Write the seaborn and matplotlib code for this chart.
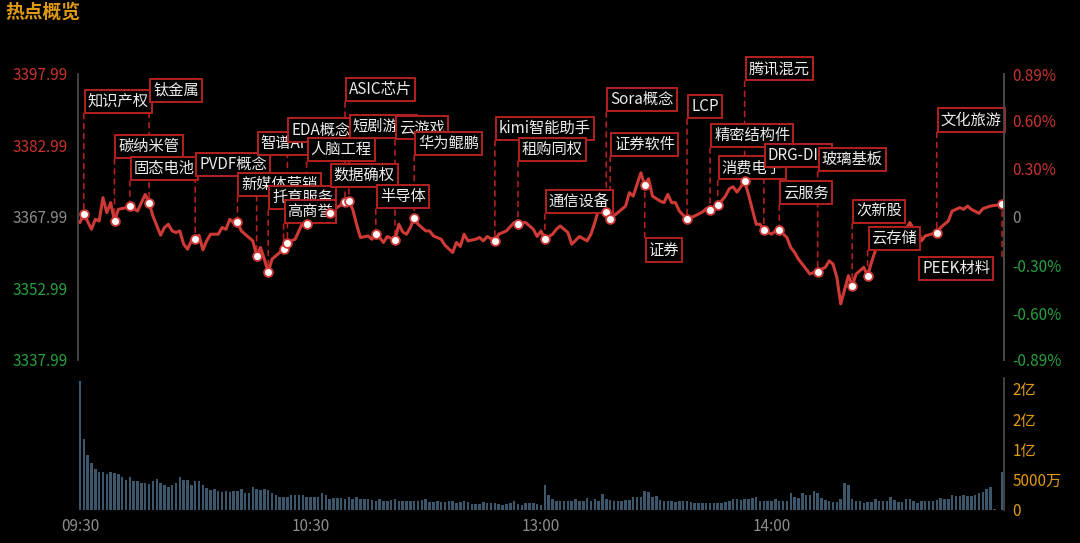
import matplotlib
matplotlib.use('Agg')
import matplotlib.pyplot as plt
import seaborn as sns
import pandas as pd

# 分时走势: minutes after 09:30 (13:00 continues at 120), index level
minute = [0, 1, 3, 4, 5, 6, 7, 8, 9, 10, 12, 13, 15, 17, 18, 19, 21, 22, 23, 24,
          25, 26, 27, 28, 29, 30, 31, 32, 33, 34, 36, 37, 38, 39, 40, 41, 42, 44, 45, 46,
          47, 48, 49, 50, 52, 53, 54, 56, 57, 58, 59, 61, 65, 69, 70, 71, 72, 73, 75, 76,
          77, 78, 79, 80, 82, 83, 84, 85, 86, 87, 88, 90, 91, 92, 94, 95, 97, 98, 99, 100,
          101, 103, 104, 105, 106, 108, 109, 111, 113, 114, 116, 118, 119, 120, 121, 123, 124, 125, 127, 128,
          130, 132, 133, 134, 135, 137, 138, 140, 142, 143, 144, 145, 146, 147, 148, 149, 151, 152, 153, 154,
          155, 156, 158, 160, 162, 163, 164, 166, 168, 169, 170, 171, 173, 174, 175, 176, 177, 178, 180, 181,
          182, 184, 185, 186, 187, 188, 190, 191, 192, 193, 194, 195, 196, 197, 198, 200, 201, 202, 203, 204,
          205, 206, 207, 209, 210, 212, 213, 215, 216, 217, 218, 219, 220, 223, 224, 226, 227, 229, 230, 231,
          232, 234, 235, 237, 240]
price = [3366.82, 3368.70, 3365.42, 3367.51, 3367.15, 3372.04, 3368.91, 3371.00, 3367.15, 3369.60,
         3369.95, 3370.29, 3369.24, 3372.73, 3371.00, 3368.20, 3364.17, 3365.78, 3366.47, 3365.07,
         3364.73, 3365.07, 3362.29, 3361.24, 3362.98, 3363.33, 3364.17, 3361.10, 3362.98, 3364.38,
         3364.38, 3365.78, 3365.42, 3367.51, 3366.82, 3366.95, 3365.07, 3363.69, 3362.98, 3359.84,
         3361.60, 3359.15, 3356.38, 3359.15, 3360.55, 3361.24, 3362.64, 3363.33, 3365.07, 3366.82,
         3366.47, 3367.15, 3368.91, 3371.12, 3371.33, 3369.60, 3366.47, 3363.69, 3364.02, 3363.33,
         3364.38, 3363.69, 3362.64, 3363.90, 3363.12, 3366.47, 3364.86, 3364.38, 3365.78, 3367.86,
         3366.47, 3365.07, 3365.07, 3364.02, 3363.33, 3362.08, 3360.55, 3362.64, 3361.81, 3364.38,
         3362.98, 3363.33, 3363.69, 3362.98, 3363.90, 3362.98, 3364.38, 3365.07, 3366.82, 3366.61,
         3366.82, 3365.42, 3363.90, 3365.07, 3363.33, 3364.38, 3365.42, 3366.11, 3364.73, 3362.29,
         3363.90, 3362.98, 3364.38, 3366.82, 3369.60, 3369.03, 3367.66, 3368.91, 3370.29, 3373.09,
         3372.38, 3374.82, 3377.27, 3374.61, 3376.01, 3372.38, 3371.33, 3371.00, 3372.73, 3371.00,
         3371.00, 3369.24, 3367.51, 3368.20, 3369.03, 3369.74, 3369.45, 3370.43, 3372.38, 3373.92,
         3374.34, 3373.21, 3375.45, 3372.73, 3369.60, 3366.47, 3366.47, 3365.21, 3364.38, 3365.07,
         3365.21, 3363.69, 3361.60, 3360.55, 3359.15, 3358.11, 3356.02, 3356.38, 3356.50, 3357.06,
         3357.42, 3358.80, 3358.11, 3355.33, 3349.75, 3355.67, 3353.58, 3356.02, 3356.71, 3357.42,
         3355.67, 3358.46, 3360.89, 3362.98, 3363.69, 3363.69, 3364.38, 3365.42, 3366.82, 3365.42,
         3365.78, 3362.98, 3364.02, 3364.73, 3365.78, 3367.15, 3369.24, 3369.95, 3369.60, 3370.29,
         3369.60, 3368.76, 3369.74, 3370.29, 3370.64]
pre_close = 3367.99

# 成交额 per minute (万), 09:30 .. 15:00
volume = [21340, 11660, 9020, 7810, 6710, 6270, 6270, 5940, 6270, 6050,
          5940, 5500, 4950, 5390, 4840, 4730, 4510, 4510, 4290, 4840,
          5170, 4510, 4180, 3850, 4070, 4510, 5390, 4950, 4950, 4070,
          4840, 4840, 4180, 3630, 3300, 3410, 3080, 2970, 3190, 2970,
          3080, 3190, 3520, 2750, 2750, 3740, 3410, 3300, 3410, 3300,
          2860, 2420, 2090, 2200, 2090, 2420, 2530, 2530, 2530, 2200,
          2090, 2200, 2200, 2750, 2420, 1760, 1980, 1980, 1980, 1760,
          2200, 1760, 2090, 1870, 1870, 1760, 1650, 1430, 1760, 1430,
          1540, 1650, 1760, 1430, 1430, 1430, 1540, 1540, 1540, 1650,
          1760, 1320, 1320, 1430, 1320, 1320, 1540, 1430, 1100, 1320,
          1430, 1320, 990, 990, 990, 1320, 1210, 1210, 1100, 990,
          880, 990, 1210, 1540, 990, 880, 1100, 1210, 1100, 990,
          880, 4070, 2530, 1760, 1430, 1540, 1540, 1430, 1430, 1870,
          1430, 1430, 1980, 1540, 1870, 1430, 2640, 1760, 1650, 1430,
          1430, 1540, 1650, 1650, 2090, 2200, 2200, 3190, 2970, 2200,
          2310, 1650, 1540, 1540, 1540, 1320, 1540, 1540, 1540, 1320,
          1210, 1210, 1210, 1100, 1100, 1100, 1100, 1210, 1320, 1540,
          1760, 1760, 1650, 1760, 1870, 1980, 2200, 1540, 1540, 1540,
          1430, 1870, 1430, 1430, 1430, 2860, 2200, 1980, 2750, 2530,
          2420, 3080, 2750, 1980, 1650, 1430, 1320, 1320, 1870, 4400,
          4070, 1760, 1540, 1430, 1100, 1320, 1320, 1760, 1430, 1430,
          1430, 2090, 1650, 1320, 1320, 1870, 1870, 1540, 1210, 1430,
          1430, 1430, 1430, 1650, 1980, 1760, 1870, 2530, 2310, 2310,
          2420, 2310, 2310, 2420, 2750, 2970, 3410, 3740, 110, 0,
          6270]

# 热点 tags and the minute they appeared
tag_name = ['知识产权', '碳纳米管', '固态电池', '钛金属', 'PVDF概念', '新媒体营销', '智谱AI',
            '托育服务', '高商誉', 'EDA概念', '人脑工程', '数据确权', 'ASIC芯片', '短剧游戏',
            '半导体', '云游戏', '华为鲲鹏', 'kimi智能助手', '租购同权', '通信设备', 'Sora概念',
            '证券软件', '证券', 'LCP', '精密结构件', '消费电子', '腾讯混元', 'DRG-DIP', '云服务',
            '玻璃基板', '次新股', '云存储', '文化旅游', 'PEEK材料']
tag_minute = [1, 9, 13, 18, 30, 41, 46, 49, 53, 54, 59, 65, 69, 70, 77, 82, 87, 108, 114, 121,
              137, 138, 147, 158, 164, 166, 173, 178, 182, 192, 201, 205, 223, 240]

time_ticks = [0, 60, 120, 180]
time_labels = ['09:30', '10:30', '13:00', '14:00']
price_ticks = [3337.99, 3352.99, 3367.99, 3382.99, 3397.99]
pct_ticks = [-0.89, -0.60, -0.30, 0, 0.30, 0.60, 0.89]
vol_ticks = [0, 5000, 10000, 15000, 20000]
vol_labels = ['0', '5000万', '1亿', '2亿', '2亿']

# label stagger (pixels above / below the point)
tag_level = [3, 2, 1, 3, 2, 1, 3, 2, 1, 3, 2, 1, 3, 2, 1, 3, 2, 3, 2, 1, 3, 2, -1, 3, 2, 1, 3, 2, 1,
             3, 2, 1, 3, -1]
LEVEL_DY = {1: 25, 2: 62, 3: 100, -1: -52}
SHIFT_X = {'PEEK材料': -84}

RED = '#cf3a36'
BOX_RED = '#b3201e'
UP = '#c8342f'
DOWN = '#27a040'
GREY = '#8c8c8c'
ORANGE = '#e09a12'
BAR = '#3c566c'

sns.set_theme(style='dark', rc={'axes.facecolor': 'black', 'figure.facecolor': 'black',
                                'savefig.facecolor': 'black'})
plt.rcParams['font.family'] = ['Noto Sans CJK SC', 'DejaVu Sans']
plt.rcParams['axes.unicode_minus'] = False

df = pd.DataFrame({'minute': minute, 'price': price})
price_at = dict(zip(minute, price))
vdf = pd.DataFrame({'minute': list(range(len(volume))), 'volume': volume})
tdf = pd.DataFrame({'minute': tag_minute, 'price': [price_at[m] for m in tag_minute]})

W, H = 1080, 543
fig = plt.figure(figsize=(W / 100, H / 100), dpi=100)
ax = fig.add_axes([78 / W, 1 - 360 / H, 926 / W, 286 / H])
vax = fig.add_axes([78 / W, 1 - 510 / H, 926 / W, 132 / H])

# price line + tag points
sns.lineplot(data=df, x='minute', y='price', ax=ax, color=RED, linewidth=2.2, zorder=4)
sns.scatterplot(data=tdf, x='minute', y='price', ax=ax, color='white', edgecolor=RED,
                s=40, linewidth=1.3, zorder=8)

for m, name, lv in zip(tag_minute, tag_name, tag_level):
    p = price_at[m]
    dy = LEVEL_DY[lv]
    dx = SHIFT_X.get(name, 0)
    ax.annotate('', xy=(m, p), xytext=(0, dy), textcoords='offset pixels',
                arrowprops=dict(arrowstyle='-', color=BOX_RED, lw=1.2, linestyle=(0, (3, 3)),
                                shrinkA=0, shrinkB=0), zorder=2)
    ax.annotate(name, xy=(m, p), xytext=(dx + 4, dy + 4 if dy > 0 else dy - 4),
                textcoords='offset pixels', ha='left', va='bottom' if dy > 0 else 'top',
                color='#ececec', fontsize=11, annotation_clip=False, zorder=6,
                bbox=dict(boxstyle='square,pad=0.2', fc='black', ec=BOX_RED, lw=1.4))

ax.set_xlim(-0.5, 240.5)
ax.set_ylim(price_ticks[0], price_ticks[-1])
ax.set_xticks([])
ax.set_xlabel('')
ax.set_ylabel('')
ax.set_yticks(price_ticks)
ax.set_yticklabels(['%.2f' % v for v in price_ticks])
ax.tick_params(axis='y', length=0, pad=7.5, labelsize=11)
for lbl, v in zip(ax.get_yticklabels(), price_ticks):
    lbl.set_color(UP if v > pre_close else DOWN if v < pre_close else GREY)
for side in ['top', 'bottom']:
    ax.spines[side].set_visible(False)
for side in ['left', 'right']:
    ax.spines[side].set_color('#4a4a4a')
ax.grid(False)

ax2 = ax.twinx()
ax2.set_ylim(ax.get_ylim())
ax2.set_yticks([pre_close * (1 + p / 100) for p in pct_ticks])
ax2.set_yticklabels(['0' if p == 0 else '%.2f%%' % p for p in pct_ticks])
ax2.tick_params(axis='y', length=0, pad=6, labelsize=11)
for lbl, p in zip(ax2.get_yticklabels(), pct_ticks):
    lbl.set_color(UP if p > 0 else DOWN if p < 0 else GREY)
for side in ['top', 'bottom', 'left']:
    ax2.spines[side].set_visible(False)
ax2.spines['right'].set_color('#4a4a4a')
ax2.grid(False)

# volume bars
sns.barplot(data=vdf, x='minute', y='volume', ax=vax, native_scale=True, color=BAR,
            width=0.65, saturation=1, errorbar=None, linewidth=0)
vax.set_xlim(-0.5, 240.5)
vax.set_ylim(0, 21800)
vax.yaxis.tick_right()
vax.set_yticks(vol_ticks)
vax.set_yticklabels(vol_labels)
vax.tick_params(axis='y', length=0, pad=6, labelsize=11, labelcolor=ORANGE)
vax.set_xticks(time_ticks)
vax.set_xticklabels(time_labels)
vax.tick_params(axis='x', length=0, pad=6, labelsize=11, labelcolor=GREY)
vax.set_xlabel('')
vax.set_ylabel('')
for side in ['top', 'bottom', 'left']:
    vax.spines[side].set_visible(False)
vax.spines['right'].set_color('#4a4a4a')
vax.grid(False)

fig.text(5 / W, 1 - 3 / H, '热点概览', color=ORANGE, fontsize=13.5, fontweight='bold',
         ha='left', va='top')

fig.savefig('out.png', dpi=100, facecolor='black')
